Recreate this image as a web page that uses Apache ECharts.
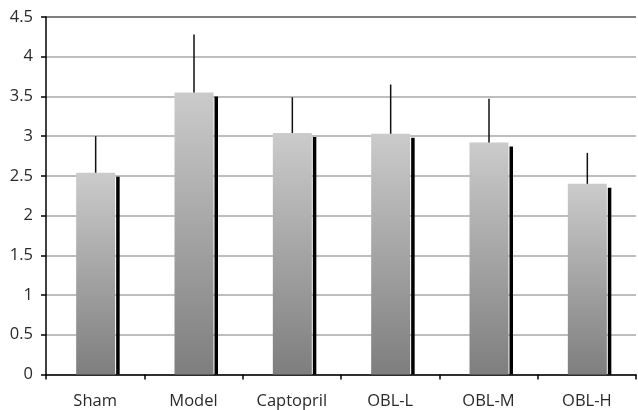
<!DOCTYPE html>
<html><head><meta charset="utf-8">
<script src="https://cdn.jsdelivr.net/npm/echarts@6/dist/echarts.min.js"></script>
<style>html,body{margin:0;padding:0;background:#fff}#c{width:638px;height:410px}</style>
</head><body><div id="c"></div>
<script>
var categories = ["Sham", "Model", "Captopril", "OBL-L", "OBL-M", "OBL-H"];
var means = [2.54, 3.55, 3.04, 3.03, 2.92, 2.40];
var errors = [0.46, 0.73, 0.45, 0.62, 0.55, 0.39];
var yTicks = [0, 0.5, 1, 1.5, 2, 2.5, 3, 3.5, 4, 4.5];

var chart = echarts.init(document.getElementById('c'), null, {renderer: 'canvas'});
var data = means.map(function (v, i) { return [i, v, errors[i]]; });
var gridColors = yTicks.map(function (t, i) { return i === yTicks.length - 1 ? '#555' : '#a8a8a8'; });

chart.setOption({
  animation: false,
  grid: {left: 46, right: 2, top: 17, bottom: 35.5},
  xAxis: {
    type: 'category', data: categories, boundaryGap: true,
    axisLine: {lineStyle: {color: '#000', width: 1.5}},
    axisTick: {show: true, length: 5, lineStyle: {color: '#000', width: 1.5}},
    axisLabel: {color: '#2a2a2a', fontFamily: 'Open Sans', fontSize: 16.5, margin: 18}
  },
  yAxis: {
    type: 'value', min: yTicks[0], max: yTicks[yTicks.length - 1], interval: 0.5,
    axisLine: {show: true, lineStyle: {color: '#000', width: 1.5}},
    axisTick: {show: true, length: 5, lineStyle: {color: '#000', width: 1.5}},
    axisLabel: {color: '#2a2a2a', fontFamily: 'Open Sans', fontSize: 16.5, margin: 13},
    splitLine: {show: true, lineStyle: {color: gridColors, width: 1.5}}
  },
  series: [{
    type: 'custom',
    data: data,
    renderItem: function (params, api) {
      var idx = api.value(0), val = api.value(1), err = api.value(2);
      var top = api.coord([idx, val]);
      var base = api.coord([idx, 0]);
      var errTop = api.coord([idx, val + err]);
      var cx = top[0];
      var w = 39;
      var x0 = cx - 19;
      return {
        type: 'group',
        children: [
          {type: 'rect', shape: {x: x0 + w + 1, y: top[1] + 4, width: 3.5, height: base[1] - top[1] - 4},
           style: {fill: '#000'}},
          {type: 'rect', shape: {x: x0, y: top[1], width: w, height: base[1] - top[1]},
           style: {fill: new echarts.graphic.LinearGradient(0, 0, 0, 1, [
             {offset: 0, color: '#cbcbcb'}, {offset: 1, color: '#7e7e7e'}])}},
          {type: 'line', shape: {x1: cx + 0.5, y1: top[1], x2: cx + 0.5, y2: errTop[1]},
           style: {stroke: '#111', lineWidth: 1.5}}
        ]
      };
    }
  }]
});
</script></body></html>
